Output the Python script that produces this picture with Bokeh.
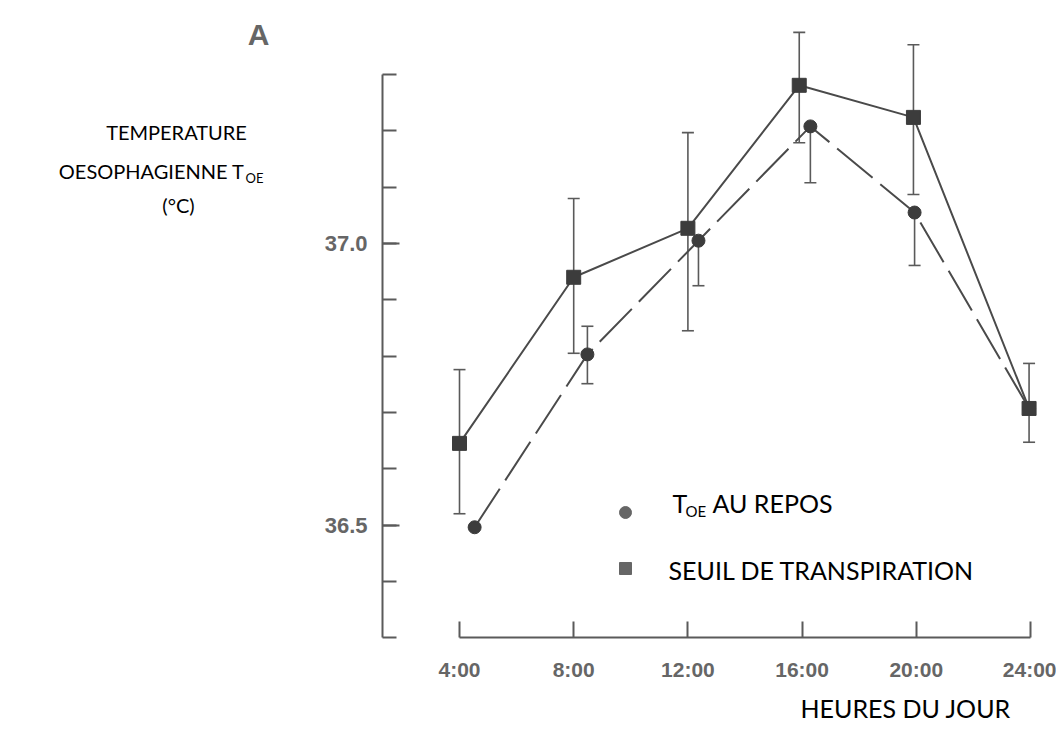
from bokeh.plotting import figure
from bokeh.models import (Range1d, LinearAxis, FixedTicker, ColumnDataSource,
                          Whisker, TeeHead, Label, PrintfTickFormatter)
from bokeh.embed import file_html
from bokeh.resources import INLINE

# ---------------- data ----------------
hour_ticks = [4, 8, 12, 16, 20, 24]
hour_labels = ["4:00", "8:00", "12:00", "16:00", "20:00", "24:00"]
temp_ticks = [36.5, 37.0]
temp_labels = ["36.5", "37.0"]
temp_minor = [36.3, 36.4, 36.5, 36.6, 36.7, 36.8, 36.9, 37.0, 37.1, 37.2, 37.3]

# Seuil de transpiration (squares)
seuil_hours = [4.0, 8.0, 12.0, 15.9, 19.9, 23.95]
seuil_mean = [36.645, 36.94, 37.027, 37.281, 37.224, 36.707]
seuil_upper = [36.776, 37.08, 37.197, 37.375, 37.353, 36.787]
seuil_lower = [36.52, 36.805, 36.845, 37.179, 37.087, 36.647]

# T_OE au repos (circles)
repos_hours = [4.53, 8.48, 12.37, 16.29, 19.94, 23.95]
repos_mean = [36.496, 36.803, 37.005, 37.208, 37.055, 36.707]
repos_upper = [36.496, 36.853, 37.005, 37.208, 37.055, 36.707]
repos_lower = [36.496, 36.751, 36.925, 37.108, 36.961, 36.707]

# ---------------- layout helpers ----------------
W, H = 1056, 731
PXH = 28.55            # pixels per hour
PXV = 563.0            # pixels per degree
XS = 4 - 459 / PXH
XE = XS + W / PXH
YT = 37.0 + 243 / PXV
YB = YT - H / PXV


def hx(px):
    return XS + px / PXH


def vy(py):
    return YT - py / PXV


INK = "#4a4a4a"
GRAY = "#5a5a5a"

p = figure(width=W, height=H, x_range=Range1d(XS, XE), y_range=Range1d(YB, YT),
           x_axis_type=None, y_axis_type=None, output_backend="svg",
           toolbar_location=None, min_border=0, outline_line_color=None,
           background_fill_color="white", border_fill_color="white")

xaxis = LinearAxis(fixed_location=36.3, bounds=(4, 24),
                   ticker=FixedTicker(ticks=hour_ticks),
                   formatter=PrintfTickFormatter(format="%d:00"),
                   major_label_overrides=dict(zip(hour_ticks, hour_labels)),
                   axis_line_color=GRAY, axis_line_width=2,
                   major_tick_line_color=GRAY, major_tick_line_width=2,
                   major_tick_in=16, major_tick_out=0,
                   minor_tick_in=0, minor_tick_out=0,
                   major_label_standoff=20,
                   major_label_text_font="Liberation Sans",
                   major_label_text_font_style="bold",
                   major_label_text_font_size="21px",
                   major_label_text_color="#666666")
p.add_layout(xaxis, "below")

yaxis = LinearAxis(fixed_location=hx(382), bounds=(36.3, 37.3),
                   ticker=FixedTicker(ticks=temp_ticks, minor_ticks=temp_minor),
                   formatter=PrintfTickFormatter(format="%.1f"),
                   major_label_overrides=dict(zip(temp_ticks, temp_labels)),
                   axis_line_color=GRAY, axis_line_width=2,
                   major_tick_line_color=GRAY, major_tick_line_width=2,
                   minor_tick_line_color=GRAY, minor_tick_line_width=2,
                   major_tick_in=17, major_tick_out=0,
                   minor_tick_in=14, minor_tick_out=0,
                   major_label_standoff=15,
                   major_label_text_font="Liberation Sans",
                   major_label_text_font_style="bold",
                   major_label_text_font_size="22px",
                   major_label_text_color="#666666")
p.add_layout(yaxis, "left")

seuil_src = ColumnDataSource(dict(x=seuil_hours, y=seuil_mean,
                                  upper=seuil_upper, lower=seuil_lower))
repos_src = ColumnDataSource(dict(x=repos_hours, y=repos_mean,
                                  upper=repos_upper, lower=repos_lower))

# lines
p.line("x", "y", source=seuil_src, line_color=INK, line_width=2)
p.line("x", "y", source=repos_src, line_color=INK, line_width=2, line_dash="46 10")

# error bars
for src in (seuil_src, repos_src):
    wk = Whisker(source=src, base="x", upper="upper", lower="lower",
                 line_color=GRAY, line_width=1.6,
                 upper_head=TeeHead(size=12, line_color=GRAY, line_width=1.6),
                 lower_head=TeeHead(size=12, line_color=GRAY, line_width=1.6))
    p.add_layout(wk)

# markers
p.scatter("x", "y", source=repos_src, marker="circle", size=13,
          fill_color="#3c3c3c", line_color="#3c3c3c")
p.scatter("x", "y", source=seuil_src, marker="square", size=14,
          fill_color="#3c3c3c", line_color="#3c3c3c")

# legend (manual)
p.scatter([hx(625)], [vy(512)], marker="circle", size=12,
          fill_color="#666666", line_color="#666666")
p.scatter([hx(625)], [vy(568)], marker="square", size=12,
          fill_color="#666666", line_color="#666666")

TXT = "Lato"


def lab(text, px, py, size, align="left", font=TXT, color="black", style="normal"):
    # py = wanted baseline in pixels; correct for the renderer's baseline offset
    fs = float(size.replace("px", ""))
    p.add_layout(Label(x=hx(px), y=vy(py - 0.42 * fs), text=text, text_font=font,
                       text_font_size=size, text_color=color,
                       text_align=align, text_baseline="alphabetic",
                       text_font_style=style))


lab("T", 672, 513, "25px")
lab("OE", 685, 517, "15px")
lab("AU REPOS", 712, 513, "25px")
lab("SEUIL DE TRANSPIRATION", 668, 580, "25px")

lab("HEURES DU JOUR", 800, 718, "25px")

# y title
lab("TEMPERATURE", 176, 140, "20px", align="center")
lab("OESOPHAGIENNE T", 244, 179, "20px", align="right")
lab("OE", 245, 183, "13px")
lab("(°C)", 178, 213, "20px", align="center")

lab("A", 258, 47, "30px", align="center", font="Liberation Sans", color="#666666",
    style="bold")

open("out.html", "w").write(file_html(p, INLINE))
